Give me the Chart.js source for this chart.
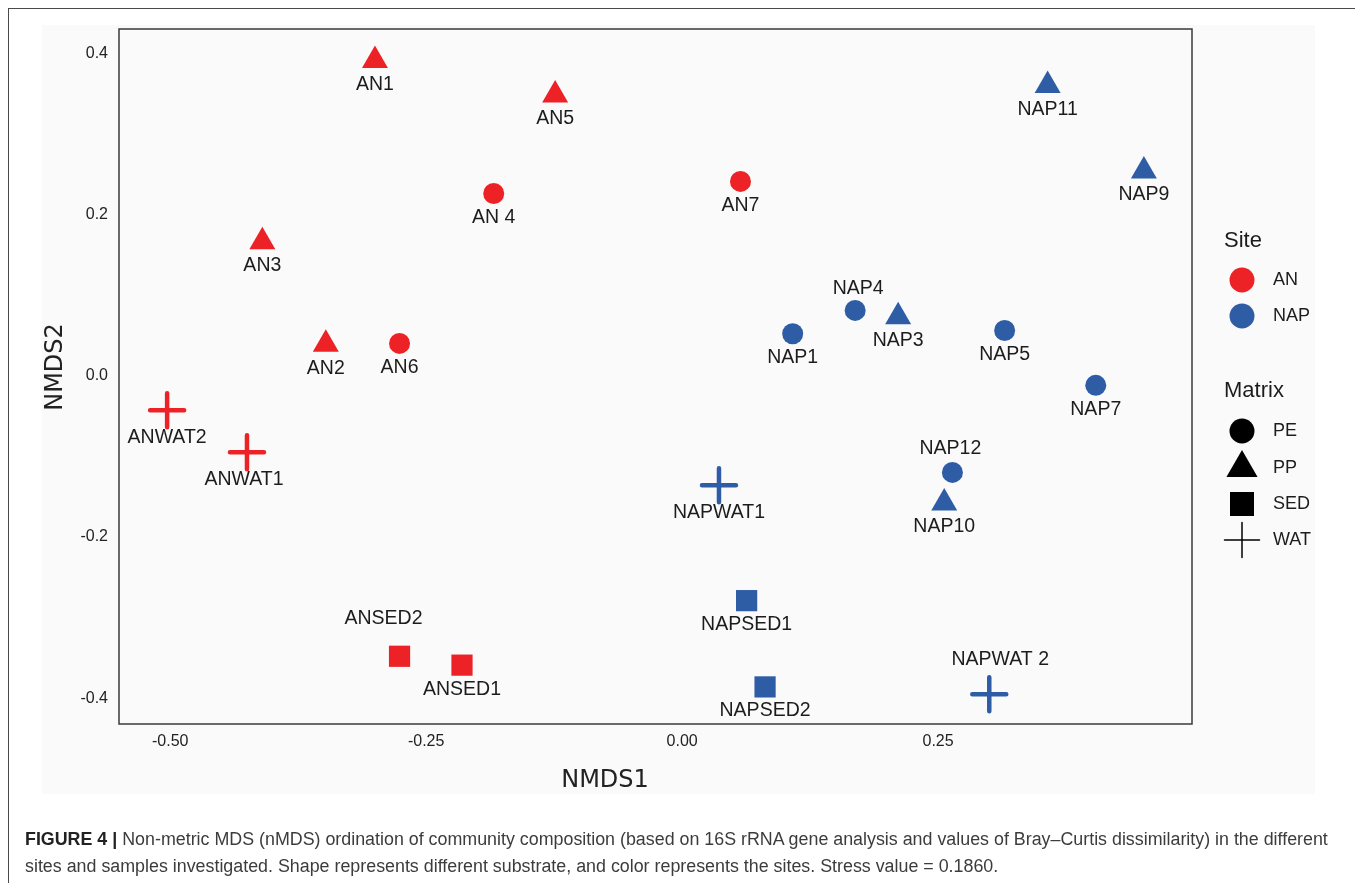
<!DOCTYPE html>
<html>
<head>
<meta charset="utf-8">
<title>nMDS ordination</title>
<script src="https://cdn.jsdelivr.net/npm/chart.js@4.4.1/dist/chart.umd.min.js"></script>
<style>
  html, body { margin: 0; padding: 0; width: 1355px; height: 883px; overflow: hidden; background: #ffffff; }
  #frame { position: absolute; left: 8px; top: 8px; width: 1400px; height: 1000px; border: 1.5px solid #4a4a4a; box-sizing: border-box; }
  #panel { position: absolute; left: 42px; top: 25px; width: 1273px; height: 769px; background: #fafafa; }
  #chart { position: absolute; left: 0; top: 0; }
  #caption { position: absolute; left: 25px; top: 826px; font-family: "Liberation Sans", Arial, sans-serif; font-size: 17.85px; line-height: 27px; color: #3c3c3c; white-space: nowrap; }
  #caption b { color: #222222; }
</style>
</head>
<body>
<div id="frame"></div>
<div id="panel"></div>
<canvas id="chart" width="1355" height="883"></canvas>
<div id="caption"><b>FIGURE 4 |</b> Non-metric MDS (nMDS) ordination of community composition (based on 16S rRNA gene analysis and values of Bray–Curtis dissimilarity) in the different<br>sites and samples investigated. Shape represents different substrate, and color represents the sites. Stress value = 0.1860.</div>
<script>
// Sample scores on the two nMDS axes
const samples = ['AN1', 'AN2', 'AN3', 'AN 4', 'AN5', 'AN6', 'AN7', 'ANWAT1', 'ANWAT2', 'ANSED1', 'ANSED2',
                 'NAP1', 'NAP3', 'NAP4', 'NAP5', 'NAP7', 'NAP9', 'NAP10', 'NAP11', 'NAP12',
                 'NAPWAT1', 'NAPWAT 2', 'NAPSED1', 'NAPSED2'];
const nmds1 = [-0.300, -0.348, -0.410, -0.184, -0.124, -0.276, 0.057, -0.425, -0.503, -0.215, -0.276,
               0.108, 0.211, 0.169, 0.315, 0.404, 0.451, 0.256, 0.357, 0.264,
               0.036, 0.300, 0.063, 0.081];
const nmds2 = [0.391, 0.039, 0.166, 0.226, 0.348, 0.040, 0.241, -0.095, -0.043, -0.359, -0.348,
               0.052, 0.073, 0.081, 0.056, -0.012, 0.254, -0.158, 0.360, -0.120,
               -0.136, -0.395, -0.279, -0.386];
const site = ['AN', 'AN', 'AN', 'AN', 'AN', 'AN', 'AN', 'AN', 'AN', 'AN', 'AN',
              'NAP', 'NAP', 'NAP', 'NAP', 'NAP', 'NAP', 'NAP', 'NAP', 'NAP',
              'NAP', 'NAP', 'NAP', 'NAP'];
const matrix = ['PP', 'PP', 'PP', 'PE', 'PP', 'PE', 'PE', 'WAT', 'WAT', 'SED', 'SED',
                'PE', 'PP', 'PE', 'PE', 'PE', 'PP', 'PP', 'PP', 'PE',
                'WAT', 'WAT', 'SED', 'SED'];
const siteLevels = ['AN', 'NAP'];
const matrixLevels = ['PE', 'PP', 'SED', 'WAT'];
const xTicks = [-0.50, -0.25, 0.00, 0.25];
const yTicks = [-0.4, -0.2, 0.0, 0.2, 0.4];

// Appearance
const siteColor = { AN: '#ED2227', NAP: '#2E5DA6' };
const shape = {
  PE:  { pointStyle: 'circle',   radius: 10.5, borderWidth: 0 },
  PP:  { pointStyle: 'triangle', radius: 15,   borderWidth: 0 },
  SED: { pointStyle: 'rect',     radius: 15,   borderWidth: 0 },
  WAT: { pointStyle: 'cross',    radius: 17,   borderWidth: 4.5 }
};
const legendShape = {
  PE:  { pointStyle: 'circle',   radius: 12.5, borderWidth: 0 },
  PP:  { pointStyle: 'triangle', radius: 18,   borderWidth: 0 },
  SED: { pointStyle: 'rect',     radius: 17,   borderWidth: 0 },
  WAT: { pointStyle: 'cross',    radius: 17.5, borderWidth: 1.5 }
};
// Text nudges (px) for sample names; the rest sit just below their marker
const labelNudge = {
  'ANSED2': [-16, -38], 'NAPWAT 2': [11, -35], 'NAP4': [3, -22], 'NAP12': [-2, -24],
  'ANWAT1': [-3, 27], 'ANWAT2': [0, 27], 'NAPWAT1': [0, 27]
};
const labelFont = '19.5px "Liberation Sans", Arial, sans-serif';
const tickFont = { family: '"Liberation Sans", Arial, sans-serif', size: 16 };

const datasets = siteLevels.map(s => {
  const idx = samples.map((_, i) => i).filter(i => site[i] === s);
  return {
    label: s,
    data: idx.map(i => ({ x: nmds1[i], y: nmds2[i], name: samples[i] })),
    pointStyle: idx.map(i => shape[matrix[i]].pointStyle),
    pointRadius: idx.map(i => shape[matrix[i]].radius),
    pointBorderWidth: idx.map(i => shape[matrix[i]].borderWidth),
    pointBackgroundColor: siteColor[s],
    pointBorderColor: siteColor[s]
  };
});

const plotFrame = {
  id: 'plotFrame',
  beforeDatasetsDraw(chart) {
    const { ctx, chartArea: a } = chart;
    ctx.save();
    ctx.strokeStyle = '#3a3a3a';
    ctx.lineWidth = 1.5;
    ctx.strokeRect(a.left, a.top, a.right - a.left, a.bottom - a.top);
    ctx.restore();
    ctx.lineCap = 'round';
  }
};

const sampleNames = {
  id: 'sampleNames',
  afterDatasetsDraw(chart) {
    const ctx = chart.ctx;
    ctx.save();
    ctx.lineCap = 'butt';
    ctx.font = labelFont;
    ctx.fillStyle = '#1c1c1c';
    ctx.textAlign = 'center';
    ctx.textBaseline = 'middle';
    chart.data.datasets.forEach((ds, di) => {
      chart.getDatasetMeta(di).data.forEach((el, j) => {
        const name = ds.data[j].name;
        const off = labelNudge[name] || [0, 24];
        ctx.fillText(name, el.x + off[0], el.y + off[1]);
      });
    });
    ctx.restore();
  }
};

const axisTitles = {
  id: 'axisTitles',
  afterDraw(chart) {
    const { ctx, chartArea: a } = chart;
    ctx.save();
    ctx.fillStyle = '#222222';
    ctx.font = '24px "DejaVu Sans", sans-serif';
    ctx.textAlign = 'center';
    ctx.textBaseline = 'middle';
    ctx.fillText('NMDS1', a.left + 486, a.bottom + 57);
    ctx.translate(a.left - 63, a.top + 338);
    ctx.rotate(-Math.PI / 2);
    ctx.fillText('NMDS2', 0, 0);
    ctx.restore();
  }
};

const keyLegend = {
  id: 'keyLegend',
  afterDraw(chart) {
    const { ctx, chartArea: a } = chart;
    const x0 = a.right + 32, sx = a.right + 50, tx = a.right + 81;
    ctx.save();
    ctx.fillStyle = '#1c1c1c';
    ctx.textBaseline = 'middle';
    ctx.textAlign = 'left';
    ctx.font = '22px "Liberation Sans", Arial, sans-serif';
    ctx.fillText('Site', x0, 241);
    ctx.fillText('Matrix', x0, 391);
    ctx.font = '18px "Liberation Sans", Arial, sans-serif';
    const siteY = [280, 316];
    siteLevels.forEach((s, k) => {
      ctx.fillStyle = siteColor[s];
      ctx.strokeStyle = siteColor[s];
      Chart.helpers.drawPoint(ctx, { pointStyle: 'circle', radius: 12.5, borderWidth: 0, rotation: 0 }, sx, siteY[k]);
      ctx.fillStyle = '#1c1c1c';
      ctx.fillText(s, tx, siteY[k]);
    });
    const matY = [431, 468, 504, 540];
    matrixLevels.forEach((m, k) => {
      ctx.fillStyle = '#000000';
      ctx.strokeStyle = '#000000';
      ctx.lineWidth = legendShape[m].borderWidth;
      Chart.helpers.drawPoint(ctx, Object.assign({ rotation: 0 }, legendShape[m]), sx, matY[k]);
      ctx.fillStyle = '#1c1c1c';
      ctx.fillText(m, tx, matY[k]);
    });
    ctx.restore();
  }
};

new Chart(document.getElementById('chart'), {
  type: 'scatter',
  data: { datasets },
  plugins: [plotFrame, sampleNames, axisTitles, keyLegend],
  options: {
    responsive: false,
    devicePixelRatio: 1,
    animation: false,
    events: [],
    layout: { padding: { left: 0, top: 29, right: 163, bottom: 0 } },
    plugins: { legend: { display: false }, tooltip: { enabled: false } },
    scales: {
      x: {
        type: 'linear', min: -0.55, max: 0.498,
        grid: { display: false, drawTicks: false },
        border: { display: false },
        afterBuildTicks: s => { s.ticks = xTicks.map(v => ({ value: v })); },
        afterFit: s => { s.height = 159; },
        ticks: { padding: 8, color: '#222222', font: tickFont, maxRotation: 0,
                 callback: v => v.toFixed(2) }
      },
      y: {
        type: 'linear', min: -0.432, max: 0.43,
        grid: { display: false, drawTicks: false },
        border: { display: false },
        afterBuildTicks: s => { s.ticks = yTicks.map(v => ({ value: v })); },
        afterFit: s => { s.width = 119; },
        ticks: { padding: 11, color: '#222222', font: tickFont,
                 callback: v => v.toFixed(1) }
      }
    }
  }
});
</script>
</body>
</html>
